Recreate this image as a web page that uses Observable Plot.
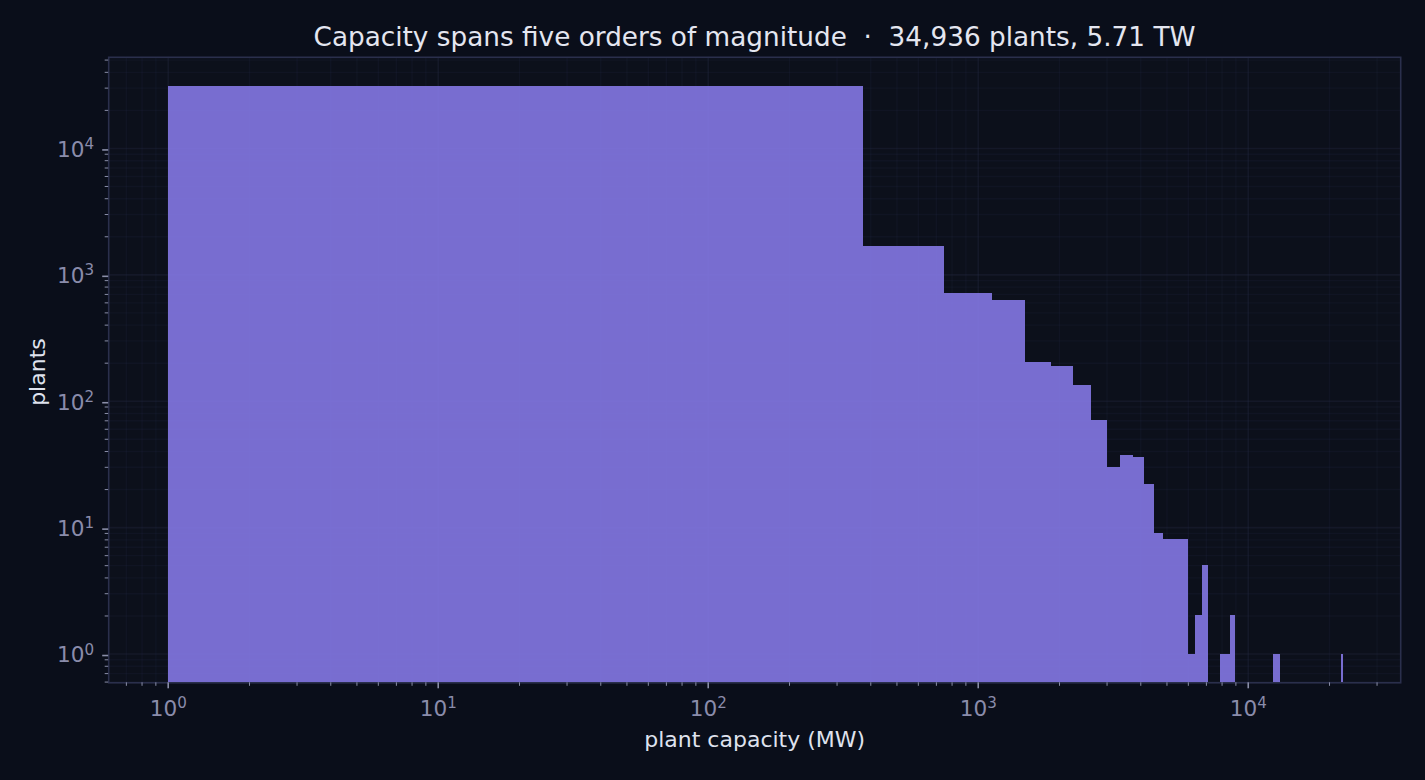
<!DOCTYPE html>
<html>
<head>
<meta charset="utf-8">
<script src="https://cdn.jsdelivr.net/npm/d3@7"></script>
<script src="https://cdn.jsdelivr.net/npm/@observablehq/plot@0.6"></script>
<style>
  html, body { margin: 0; padding: 0; background: #0a0e1a; overflow: hidden; }
  #title { height: 46px; width: 1509px; text-align: center;
    font: 26.3px/74px "DejaVu Sans", sans-serif; color: #e4e6f0; white-space: pre; }
</style>
</head>
<body>
<div id="title"></div>
<div id="chart"></div>
<script>
const titleText = "Capacity spans five orders of magnitude  ·  34,936 plants, 5.71 TW";
const xLabel = "plant capacity (MW)";
const yLabel = "plants";

const binLow  = [1, 375, 750, 1125, 1500, 1875, 2250, 2625, 3000, 3375, 3750, 4125, 4500, 4875, 5250, 5625, 6000, 6375, 6750, 7875, 8250, 8625, 12375, 12750, 22125];
const binHigh = [375, 750, 1125, 1500, 1875, 2250, 2625, 3000, 3375, 3750, 4125, 4500, 4875, 5250, 5625, 6000, 6375, 6750, 7125, 8250, 8625, 9000, 12750, 13125, 22500];
const plants  = [31144, 1680, 713, 629, 203, 189, 134, 71, 30, 37, 36, 22, 9, 8, 8, 8, 1, 2, 5, 1, 1, 2, 1, 1, 1];

const xDomain = [0.602, 36700];
const yDomain = [0.592, 52600];
const xMajor = [1, 10, 100, 1000, 10000];
const yMajor = [1, 10, 100, 1000, 10000];
const xMinor = [0.7, 0.8, 0.9, 2, 3, 4, 5, 6, 7, 8, 9, 20, 30, 40, 50, 60, 70, 80, 90, 200, 300, 400, 500, 600, 700, 800, 900, 2000, 3000, 4000, 5000, 6000, 7000, 8000, 9000, 20000, 30000];
const yMinor = [0.6, 0.7, 0.8, 0.9, 2, 3, 4, 5, 6, 7, 8, 9, 20, 30, 40, 50, 60, 70, 80, 90, 200, 300, 400, 500, 600, 700, 800, 900, 2000, 3000, 4000, 5000, 6000, 7000, 8000, 9000, 20000, 30000, 40000, 50000];

const bins = plants.map((n, i) => ({low: binLow[i], high: binHigh[i], n, base: yDomain[0]}));
const powerLabel = d => `10^${Math.round(Math.log10(d))}`;
const gridColor = "#252a44";
const tickColor = "#8a8ea8";
const labelColor = "#8a8cab";
const textColor = "#dfe2ee";

const chart = Plot.plot({
  width: 1425,
  height: 734,
  marginLeft: 108.2,
  marginRight: 24.8,
  marginTop: 10.8,
  marginBottom: 97.7,
  style: {background: "transparent", fontFamily: "'DejaVu Sans', sans-serif"},
  x: {type: "log", domain: xDomain, label: null},
  y: {type: "log", domain: yDomain, label: null},
  marks: [
    Plot.frame({fill: "#0c101b", stroke: null}),
    Plot.gridX(xMinor, {stroke: gridColor, strokeOpacity: 0.2, strokeWidth: 1.4}),
    Plot.gridY(yMinor, {stroke: gridColor, strokeOpacity: 0.2, strokeWidth: 1.4}),
    Plot.gridX(xMajor, {stroke: gridColor, strokeOpacity: 0.32, strokeWidth: 1.6}),
    Plot.gridY(yMajor, {stroke: gridColor, strokeOpacity: 0.32, strokeWidth: 1.6}),
    Plot.rectY(bins, {x1: "low", x2: "high", y1: "base", y2: "n", fill: "#8478e4", fillOpacity: 0.9, shapeRendering: "crispEdges"}),
    Plot.frame({stroke: "#2a2f4c", strokeWidth: 1.6}),
    Plot.axisX({ticks: xMinor, tickSize: 3.5, tickFormat: () => "", stroke: tickColor, strokeWidth: 1, label: null}),
    Plot.axisY({ticks: yMinor, tickSize: 3.5, tickFormat: () => "", stroke: tickColor, strokeWidth: 1, label: null}),
    Plot.axisX({ticks: xMajor, tickSize: 6, tickPadding: 12, tickFormat: powerLabel, stroke: tickColor, strokeWidth: 1.6, fill: labelColor, fontSize: 21.6, label: null}),
    Plot.axisY({ticks: yMajor, tickSize: 6, tickPadding: 8.5, dy: 1.5, tickFormat: powerLabel, stroke: tickColor, strokeWidth: 1.6, fill: labelColor, fontSize: 21.6, label: null}),
    Plot.text([xLabel], {frameAnchor: "bottom", dy: 64, fontSize: 22, fill: textColor}),
    Plot.text([yLabel], {frameAnchor: "left", dx: -71, dy: 2, rotate: -90, textAnchor: "middle", fontSize: 22, fill: textColor})
  ]
});

// Tick labels become 10 + raised exponent, still as real text.
d3.select(chart).selectAll("text").each(function () {
  const t = this.textContent;
  const m = /^10\^(\d)$/.exec(t);
  if (!m) return;
  const sel = d3.select(this);
  sel.text(null);
  sel.append("tspan").text("10");
  sel.append("tspan").attr("dy", "-0.52em").attr("font-size", "0.7em").text(m[1]);
});
document.getElementById("chart").append(chart);
document.getElementById("title").textContent = titleText;
</script>
</body>
</html>
